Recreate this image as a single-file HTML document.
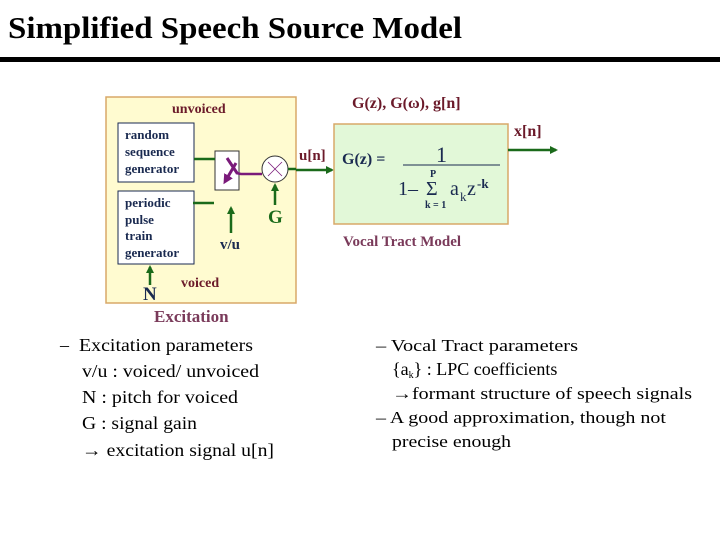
<!DOCTYPE html>
<html><head><meta charset="utf-8"><style>
html,body{margin:0;padding:0;background:#fff;}
svg{display:block;}
text{font-family:"Liberation Serif",serif;}
</style></head><body>
<svg width="720" height="540" viewBox="0 0 720 540" xmlns="http://www.w3.org/2000/svg">
<defs>
<marker id="ga" markerWidth="8" markerHeight="8" refX="6" refY="4" orient="auto" markerUnits="userSpaceOnUse"><path d="M0,0 L8,4 L0,8 z" fill="#1a6a1a"/></marker>
<marker id="pa" markerWidth="10" markerHeight="10" refX="5" refY="5" orient="auto" markerUnits="userSpaceOnUse"><path d="M0,0 L10,5 L0,10 z" fill="#7a1a7a"/></marker>
</defs>
<text x="8" y="38" font-size="31" font-weight="bold" textLength="454" lengthAdjust="spacingAndGlyphs">Simplified Speech Source Model</text>
<rect x="0" y="57" width="720" height="5" fill="#000"/>

<rect x="106" y="97" width="190" height="206" fill="#fffbd0" stroke="#d8a868" stroke-width="1.5"/>
<text x="172" y="113" font-size="14" font-weight="bold" fill="#6b1a2a">unvoiced</text>
<rect x="118" y="123" width="76" height="59" fill="#fff" stroke="#1a2a50" stroke-width="1"/>
<text font-size="13" font-weight="bold" fill="#1a2a50"><tspan x="125" y="139">random</tspan><tspan x="125" y="156">sequence</tspan><tspan x="125" y="173">generator</tspan></text>
<rect x="118" y="191" width="76" height="73" fill="#fff" stroke="#1a2a50" stroke-width="1"/>
<text font-size="13" font-weight="bold" fill="#1a2a50"><tspan x="125" y="207">periodic</tspan><tspan x="125" y="224">pulse</tspan><tspan x="125" y="240">train</tspan><tspan x="125" y="257">generator</tspan></text>
<rect x="215" y="151" width="24" height="39" fill="#fff" stroke="#333" stroke-width="1"/>
<line x1="194" y1="159" x2="215" y2="159" stroke="#1a6a1a" stroke-width="2.5"/>
<line x1="193" y1="203" x2="214" y2="203" stroke="#1a6a1a" stroke-width="2.5"/>
<line x1="227" y1="158" x2="237" y2="173" stroke="#7a1a7a" stroke-width="3"/>
<line x1="236" y1="163" x2="226" y2="180" stroke="#7a1a7a" stroke-width="3" marker-end="url(#pa)"/>
<polyline points="236,173 241,174 262,174" fill="none" stroke="#7a1a7a" stroke-width="2.5"/>
<circle cx="275" cy="169" r="13" fill="#fff" stroke="#333" stroke-width="1"/>
<line x1="268" y1="162" x2="282" y2="176" stroke="#7a1a7a" stroke-width="0.8"/>
<line x1="282" y1="162" x2="268" y2="176" stroke="#7a1a7a" stroke-width="0.8"/>
<line x1="288" y1="169" x2="296" y2="169" stroke="#1a6a1a" stroke-width="2.5"/>
<line x1="231" y1="233" x2="231" y2="208" stroke="#1a6a1a" stroke-width="2.5" marker-end="url(#ga)"/>
<line x1="275" y1="205" x2="275" y2="185" stroke="#1a6a1a" stroke-width="2.5" marker-end="url(#ga)"/>
<line x1="150" y1="285" x2="150" y2="267" stroke="#1a6a1a" stroke-width="2.5" marker-end="url(#ga)"/>
<text x="268" y="223" font-size="19" font-weight="bold" fill="#1a6a1a">G</text>
<text x="220" y="249" font-size="15" font-weight="bold" fill="#1a2a50">v/u</text>
<text x="143" y="300" font-size="19" font-weight="bold" fill="#1a2a50">N</text>
<text x="181" y="287" font-size="14" font-weight="bold" fill="#6b1a2a">voiced</text>
<text x="154" y="322" font-size="17" font-weight="bold" fill="#7a3a5a">Excitation</text>

<line x1="296" y1="170" x2="332" y2="170" stroke="#1a6a1a" stroke-width="2.5" marker-end="url(#ga)"/>
<text x="299" y="160" font-size="15" font-weight="bold" fill="#6b1a2a">u[n]</text>
<text x="352" y="108" font-size="16" font-weight="bold" fill="#6b1a2a">G(z), G(ω), g[n]</text>
<rect x="334" y="124" width="174" height="100" fill="#e2f8d8" stroke="#d8a868" stroke-width="1.5"/>
<line x1="508" y1="150" x2="556" y2="150" stroke="#1a6a1a" stroke-width="2.5" marker-end="url(#ga)"/>
<text x="514" y="136" font-size="16" font-weight="bold" fill="#6b1a2a">x[n]</text>
<text x="342" y="164" font-size="16" font-weight="bold" fill="#1a2a50">G(z) =</text>
<text x="436" y="162" font-size="22" fill="#1a2a50">1</text>
<line x1="403" y1="165" x2="500" y2="165" stroke="#1a2a50" stroke-width="1"/>
<text x="430" y="177" font-size="10" font-weight="bold" fill="#1a2a50">P</text>
<text x="398" y="195" font-size="20" fill="#1a2a50">1–</text>
<text x="426" y="195" font-size="20" fill="#1a2a50">Σ</text>
<text x="450" y="195" font-size="20" fill="#1a2a50">a</text>
<text x="460" y="201" font-size="13" fill="#1a2a50">k</text>
<text x="467" y="195" font-size="20" fill="#1a2a50">z</text>
<text x="477" y="188" font-size="13" font-weight="bold" fill="#1a2a50">-k</text>
<text x="425" y="208" font-size="10" font-weight="bold" fill="#1a2a50">k = 1</text>
<text x="343" y="246" font-size="15" font-weight="bold" fill="#7a3a5a">Vocal Tract Model</text>

<g font-size="18" fill="#000">
<text x="60" y="351">–</text>
<text x="79" y="351" textLength="174" lengthAdjust="spacingAndGlyphs">Excitation parameters</text>
<text x="82" y="377" textLength="177" lengthAdjust="spacingAndGlyphs">v/u : voiced/ unvoiced</text>
<text x="82" y="403" textLength="156" lengthAdjust="spacingAndGlyphs">N : pitch for voiced</text>
<text x="82" y="429" textLength="115" lengthAdjust="spacingAndGlyphs">G : signal gain</text>
<text x="82" y="456" textLength="192" lengthAdjust="spacingAndGlyphs">→ excitation signal u[n]</text>
</g>
<g font-size="17" fill="#000">
<text x="376" y="351" textLength="202" lengthAdjust="spacingAndGlyphs">– Vocal Tract parameters</text>
<text x="392" y="375" font-size="18">{a<tspan font-size="10" dy="3">k</tspan><tspan dy="-3">} : LPC coefficients</tspan></text>
<text x="392" y="399" textLength="300" lengthAdjust="spacingAndGlyphs">→formant structure of speech signals</text>
<text x="376" y="423" textLength="290" lengthAdjust="spacingAndGlyphs">– A good approximation, though not</text>
<text x="392" y="447" textLength="119" lengthAdjust="spacingAndGlyphs">precise enough</text>
</g>
</svg>
</body></html>
